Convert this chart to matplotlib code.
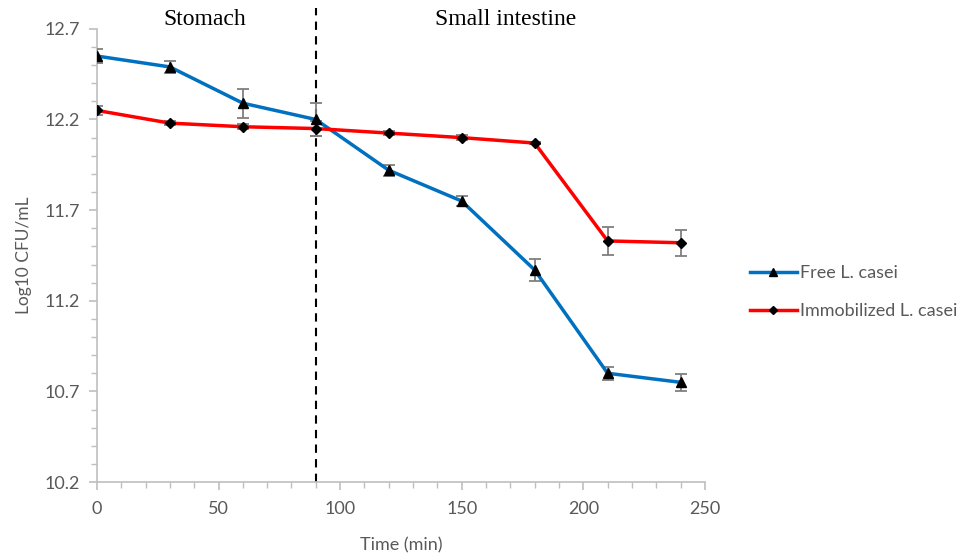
import matplotlib.pyplot as plt
from matplotlib.lines import Line2D
import numpy as np

time = [0, 30, 60, 90, 120, 150, 180, 210, 240]
free = [12.55, 12.49, 12.29, 12.20, 11.92, 11.75, 11.37, 10.80, 10.75]
free_err = [0.04, 0.035, 0.08, 0.09, 0.03, 0.027, 0.06, 0.037, 0.047]
immob = [12.25, 12.18, 12.16, 12.15, 12.125, 12.10, 12.07, 11.53, 11.52]
immob_err = [0.025, 0.01, 0.015, 0.04, 0.01, 0.015, 0.005, 0.076, 0.072]

grey = '#595959'
blue = '#0070C0'
red = '#FF0000'
plt.rcParams['font.family'] = ['Lato', 'DejaVu Sans']

fig = plt.figure(figsize=(9.79, 5.55), dpi=100)
ax = fig.add_axes([0.099, 0.1315, 0.621, 0.8165])

ax.errorbar(time, free, yerr=free_err, color=blue, lw=2.5, marker='^',
            mfc='black', mec='black', ms=7, ecolor='#7f7f7f', elinewidth=1.3,
            capsize=4, capthick=1.3, zorder=3)
ax.errorbar(time, immob, yerr=immob_err, color=red, lw=2.5, marker='D',
            mfc='black', mec='black', ms=5, ecolor='#7f7f7f', elinewidth=1.3,
            capsize=4, capthick=1.3, zorder=3)

ax.axvline(90, ymin=0, ymax=1.045, color='black', lw=1.5, ls=(0, (4, 3)),
           clip_on=False, zorder=2)

ax.set_xlim(0, 250)
ax.set_ylim(10.2, 12.7)
ax.set_xticks(np.arange(0, 251, 50))
ax.set_xticks(np.arange(0, 251, 10), minor=True)
ax.set_yticks([10.2, 10.7, 11.2, 11.7, 12.2, 12.7])
ax.set_yticks(np.arange(10.2, 12.71, 0.1), minor=True)
ax.set_yticklabels(['10.2', '10.7', '11.2', '11.7', '12.2', '12.7'])

for s in ['top', 'right']:
    ax.spines[s].set_visible(False)
for s in ['left', 'bottom']:
    ax.spines[s].set_color('#bfbfbf')
    ax.spines[s].set_linewidth(1.2)
ax.tick_params(which='both', colors='#bfbfbf', labelcolor=grey, labelsize=13)
ax.tick_params(which='major', length=6, width=1.2)
ax.tick_params(which='minor', length=4, width=1)
ax.tick_params(axis='x', pad=8)
ax.tick_params(axis='y', pad=6)

ax.set_xlabel('Time (min)', fontsize=13, color=grey, labelpad=14)
ax.set_ylabel('Log10 CFU/mL', fontsize=12.5, color=grey, labelpad=9)

ax.text(44.4, 12.75, 'Stomach', fontsize=17, family='Liberation Serif',
        ha='center', va='center')
ax.text(168, 12.75, 'Small intestine', fontsize=17, family='Liberation Serif',
        ha='center', va='center')

handles = [Line2D([], [], color=blue, lw=2.5, marker='^', mfc='black', mec='black', ms=6),
           Line2D([], [], color=red, lw=2.5, marker='D', mfc='black', mec='black', ms=4)]
leg = ax.legend(handles, ['Free L. casei', 'Immobilized L. casei'],
                loc='center left', bbox_to_anchor=(1.074, 0.419), frameon=False,
                fontsize=13, handlelength=2.6, handletextpad=0.15, labelspacing=1.2,
                borderaxespad=0, borderpad=0)
for t in leg.get_texts():
    t.set_color(grey)

fig.savefig('out.png', dpi=100)
